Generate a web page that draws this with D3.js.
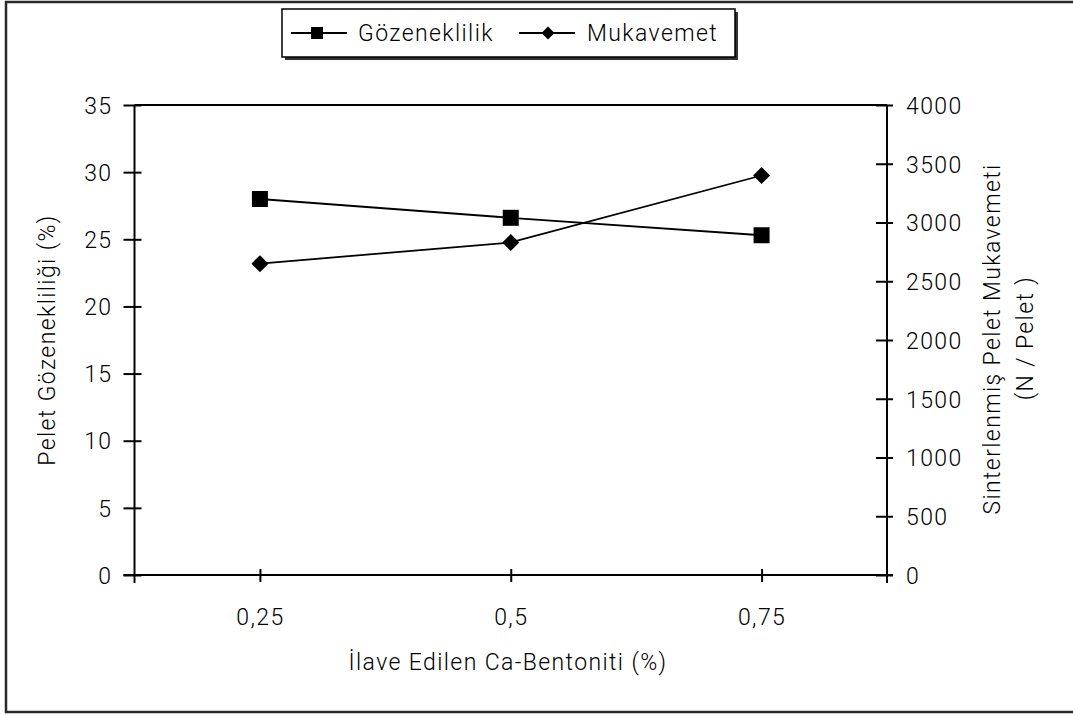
<!DOCTYPE html>
<html>
<head>
<meta charset="utf-8">
<script src="https://cdn.jsdelivr.net/npm/d3@7"></script>
<style>
  html, body { margin: 0; padding: 0; background: #fff; }
  svg text { font-family: Roboto, "Liberation Sans", Arial, sans-serif; font-weight: 300; fill: #000; letter-spacing: 1.4px; }
</style>
</head>
<body>
<svg id="chart" width="1073" height="715"></svg>
<script>
// Bentonite addition levels (category axis)
const categories = ["0,25", "0,5", "0,75"];
// Pellet porosity (%), left axis
const porosity = [28.0, 26.6, 25.3];
// Sintered pellet strength (N / pellet), right axis
const strength = [2650, 2830, 3400];
// Axis ticks
const leftTicks = [0, 5, 10, 15, 20, 25, 30, 35];
const rightTicks = [0, 500, 1000, 1500, 2000, 2500, 3000, 3500, 4000];

const svg = d3.select("#chart");
const fontSize = 23;

const plot = { left: 134.5, right: 887, top: 105, bottom: 575 };

const x = d3.scalePoint().domain(categories).range([plot.left, plot.right]).padding(0.5);
const yL = d3.scaleLinear().domain([0, 35]).range([plot.bottom, plot.top]);
const yR = d3.scaleLinear().domain([0, 4000]).range([plot.bottom, plot.top]);

// outer frame
svg.append("rect")
  .attr("x", 6).attr("y", 2).attr("width", 1080).attr("height", 710)
  .attr("fill", "none").attr("stroke", "#2a2a2a").attr("stroke-width", 2.5);

const axisStroke = "#000";

// top border of plot area
svg.append("line")
  .attr("x1", plot.left).attr("x2", plot.right)
  .attr("y1", plot.top).attr("y2", plot.top)
  .attr("stroke", axisStroke).attr("stroke-width", 2);

// left axis
const gL = svg.append("g").attr("transform", `translate(${plot.left},0)`)
  .call(d3.axisLeft(yL).tickValues(leftTicks).tickSize(0).tickPadding(22).tickFormat(d3.format("d")));
gL.select(".domain").remove();
gL.selectAll(".tick text").attr("font-size", fontSize).attr("dy", "0.36em").style("font-family", null);
gL.selectAll(".tick").append("line")
  .attr("x1", -11).attr("x2", 7).attr("stroke", axisStroke).attr("stroke-width", 2);
svg.append("line")
  .attr("x1", plot.left).attr("x2", plot.left)
  .attr("y1", plot.top).attr("y2", plot.bottom + 8)
  .attr("stroke", axisStroke).attr("stroke-width", 2);

// right axis
const gR = svg.append("g").attr("transform", `translate(${plot.right},0)`)
  .call(d3.axisRight(yR).tickValues(rightTicks).tickSize(0).tickPadding(19).tickFormat(d3.format("d")));
gR.select(".domain").remove();
gR.selectAll(".tick text").attr("font-size", fontSize).attr("dy", "0.36em").style("font-family", null);
gR.selectAll(".tick").append("line")
  .attr("x1", -11).attr("x2", 6).attr("stroke", axisStroke).attr("stroke-width", 2);
svg.append("line")
  .attr("x1", plot.right).attr("x2", plot.right)
  .attr("y1", plot.top).attr("y2", plot.bottom + 8)
  .attr("stroke", axisStroke).attr("stroke-width", 2);

// category axis
const gX = svg.append("g").attr("transform", `translate(0,${plot.bottom})`)
  .call(d3.axisBottom(x).tickSize(0).tickPadding(34));
gX.select(".domain").remove();
gX.selectAll(".tick text").attr("font-size", fontSize).style("font-family", null);
gX.selectAll(".tick").append("line")
  .attr("y1", -6).attr("y2", 7).attr("stroke", axisStroke).attr("stroke-width", 2);
svg.append("line")
  .attr("x1", plot.left - 11).attr("x2", plot.right + 6)
  .attr("y1", plot.bottom).attr("y2", plot.bottom)
  .attr("stroke", axisStroke).attr("stroke-width", 2);

// axis titles
svg.append("text")
  .attr("x", 508).attr("y", 670).attr("text-anchor", "middle")
  .attr("font-size", fontSize).text("İlave Edilen Ca-Bentoniti (%)");
svg.append("text")
  .attr("transform", "translate(55,340) rotate(-90)").attr("text-anchor", "middle")
  .attr("font-size", fontSize).text("Pelet Gözenekliliği (%)");
svg.append("text")
  .attr("transform", "translate(1000,339) rotate(-90)").attr("text-anchor", "middle")
  .attr("font-size", fontSize).text("Sinterlenmiş Pelet Mukavemeti");
svg.append("text")
  .attr("transform", "translate(1033,338) rotate(-90)").attr("text-anchor", "middle")
  .attr("font-size", fontSize).text("(N / Pelet )");

// series lines
const linePor = d3.line().x((d, i) => x(categories[i])).y(d => yL(d));
const lineStr = d3.line().x((d, i) => x(categories[i])).y(d => yR(d));

svg.append("path").datum(porosity).attr("d", linePor)
  .attr("fill", "none").attr("stroke", "#000").attr("stroke-width", 1.8);
svg.append("path").datum(strength).attr("d", lineStr)
  .attr("fill", "none").attr("stroke", "#000").attr("stroke-width", 1.8);

const squareSym = d3.symbol().type(d3.symbolSquare);
const diamondPath = s => `M0,${-s}L${s},0L0,${s}L${-s},0Z`;

svg.selectAll(".m-por").data(porosity).join("rect")
  .attr("class", "m-por")
  .attr("x", (d, i) => x(categories[i]) - 8).attr("y", d => yL(d) - 8)
  .attr("width", 16).attr("height", 16).attr("fill", "#000");

svg.selectAll(".m-str").data(strength).join("path")
  .attr("class", "m-str")
  .attr("transform", (d, i) => `translate(${x(categories[i])},${yR(d)})`)
  .attr("d", diamondPath(8.5)).attr("fill", "#000");

// legend
const leg = svg.append("g");
leg.append("rect").attr("x", 285).attr("y", 12).attr("width", 453).attr("height", 48).attr("fill", "#333");
leg.append("rect").attr("x", 282).attr("y", 9).attr("width", 453).attr("height", 48)
  .attr("fill", "#fff").attr("stroke", "#000").attr("stroke-width", 1.5);

leg.append("line").attr("x1", 291).attr("x2", 347).attr("y1", 33).attr("y2", 33)
  .attr("stroke", "#000").attr("stroke-width", 1.8);
leg.append("rect").attr("x", 311).attr("y", 27).attr("width", 12).attr("height", 12).attr("fill", "#000");
leg.append("text").attr("x", 358).attr("y", 41).attr("font-size", fontSize).text("Gözeneklilik");

leg.append("line").attr("x1", 519).attr("x2", 575).attr("y1", 33).attr("y2", 33)
  .attr("stroke", "#000").attr("stroke-width", 1.8);
leg.append("path").attr("transform", "translate(548,33)").attr("d", diamondPath(6.5)).attr("fill", "#000");
leg.append("text").attr("x", 587).attr("y", 41).attr("font-size", fontSize).text("Mukavemet");
</script>
</body>
</html>
